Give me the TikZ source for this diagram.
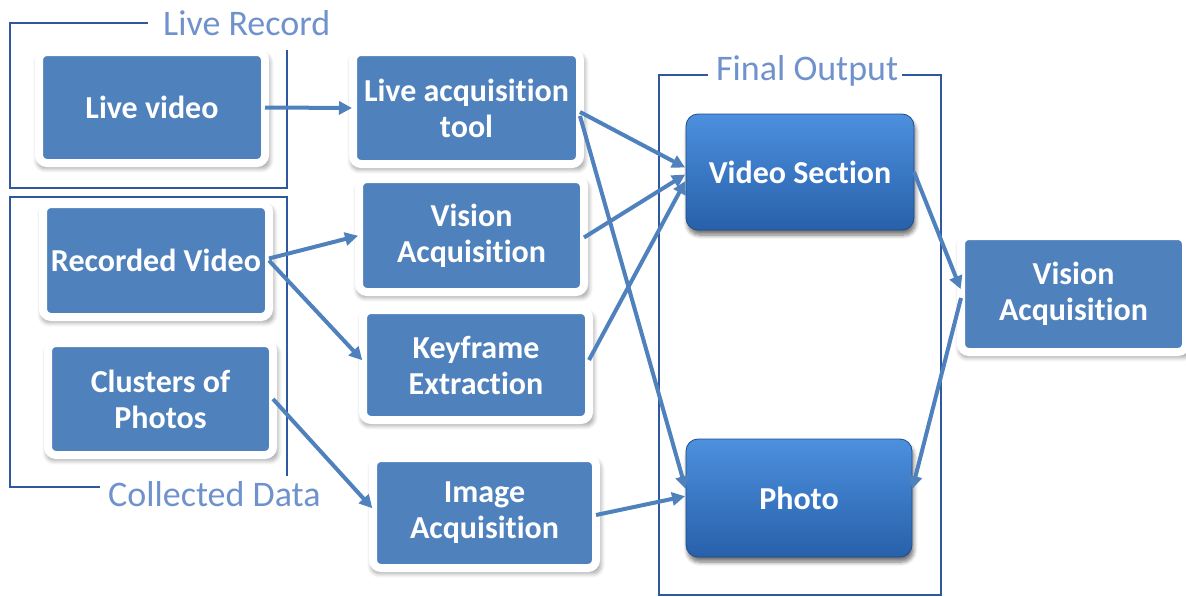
\documentclass[tikz,border=0pt]{standalone}
\usepackage{fontspec}
\setmainfont{Carlito}[Ligatures={NoCommon}]
\usetikzlibrary{arrows.meta,shadows,shadows.blur,calc}
\definecolor{boxblue}{RGB}{79,129,189}
\definecolor{glosstop}{RGB}{76,144,222}
\definecolor{glossbot}{RGB}{40,96,170}
\definecolor{framecol}{RGB}{47,88,160}
\definecolor{labelcol}{RGB}{112,146,204}
\definecolor{arrowcol}{RGB}{79,129,189}
\tikzset{
  blk/.style={fill=boxblue, draw=white, line width=8pt, rounded corners=8pt,
    outer sep=0pt, align=center, text=white,
    font=\fontsize{32}{36}\selectfont\bfseries,
    blur shadow={shadow blur steps=6, shadow opacity=35, shadow scale=1.03,
      shadow xshift=1.5pt, shadow yshift=-4pt, shadow blur radius=4pt}},
  gloss/.style={top color=glosstop, bottom color=glossbot, draw=glossbot!80!black,
    line width=0.8pt, rounded corners=12pt, outer sep=0pt, align=center, text=white,
    font=\fontsize{32}{36}\selectfont\bfseries,
    blur shadow={shadow blur steps=6, shadow opacity=55,
      shadow xshift=1.5pt, shadow yshift=-5pt, shadow blur radius=4pt}},
  conn/.style={draw=arrowcol, line width=4pt,
    -{Triangle[length=13pt,width=13pt]}, shorten >=1pt},
  frameline/.style={draw=framecol, line width=1.4pt},
  framelabel/.style={text=labelcol, font=\fontsize{36}{38}\selectfont,
    inner sep=0pt, anchor=base west}
}
\begin{document}
\begin{tikzpicture}[x=1pt,y=-1pt]
\useasboundingbox (0,0) rectangle (1186,597);

% group frames
\draw[frameline] (148,23) -- (10,23) -- (10,188) -- (287,188) -- (287,50);
\node[framelabel] (lrlab) at (163,35) {Live Record};
\draw[frameline] (100,487) -- (10,487) -- (10,197) -- (287,197) -- (287,476);
\node[framelabel] (cdlab) at (108,506) {Collected Data};
\draw[frameline] (708,75) -- (659,75) -- (659,595) -- (941,595) -- (941,75) -- (902,75);
\node[framelabel] (folab) at (716,80) {Final Output};

% input and processing boxes
\node[blk, minimum width=226pt, minimum height=111pt] (lv)  at (152,107.5) {Live video};
\node[blk, minimum width=227pt, minimum height=112pt] (lat) at (466.5,108) {Live acquisition\\tool};
\node[blk, minimum width=225pt, minimum height=113pt] (vis) at (471.5,235.5) {Vision\\Acquisition};
\node[blk, minimum width=226pt, minimum height=113pt] (rv)  at (156,260.5) {Recorded Video};
\node[blk, minimum width=226pt, minimum height=110pt] (kf)  at (476,365) {Keyframe\\Extraction};
\node[blk, minimum width=225pt, minimum height=112pt] (cp)  at (160.5,399) {Clusters of\\Photos};
\node[blk, minimum width=223pt, minimum height=110pt] (ia)  at (484.5,513) {Image\\Acquisition};
\node[blk, minimum width=225pt, minimum height=116pt] (vr)  at (1073.5,294) {Vision\\Acquisition};

% output boxes
\node[gloss, minimum width=228pt, minimum height=116pt] (vs) at (800,172) {Video Section};
\node[gloss, minimum width=226pt, minimum height=118pt] (ph) at (799,498) {Photo};

% connectors
\draw[conn] (lv.east) -- (lat.west);
\draw[conn] ($(lat.east)+(0,4)$) -- ($(vs.west)+(0,-4)$);
\draw[conn] ($(lat.east)+(0,8)$) -- ($(ph.west)+(0,-8)$);
\draw[conn] ($(rv.east)+(0,-2)$) -- ($(vis.west)+(0,0)$);
\draw[conn] ($(rv.east)+(0,0)$) -- ($(kf.west)+(0,-4)$);
\draw[conn] ($(vis.east)+(0,2)$) -- ($(vs.west)+(0,2)$);
\draw[conn] ($(kf.east)+(0,-5)$) -- ($(vs.west)+(0,8)$);
\draw[conn] ($(cp.east)+(0,0)$) -- ($(ia.west)+(0,-4)$);
\draw[conn] ($(ia.east)+(0,2)$) -- ($(ph.west)+(0,-2)$);
\draw[conn] (vs.east) -- ($(vr.west)+(0,-4)$);
\draw[conn] ($(vr.west)+(0,4)$) -- ($(ph.east)+(0,-8)$);
\end{tikzpicture}
\end{document}
